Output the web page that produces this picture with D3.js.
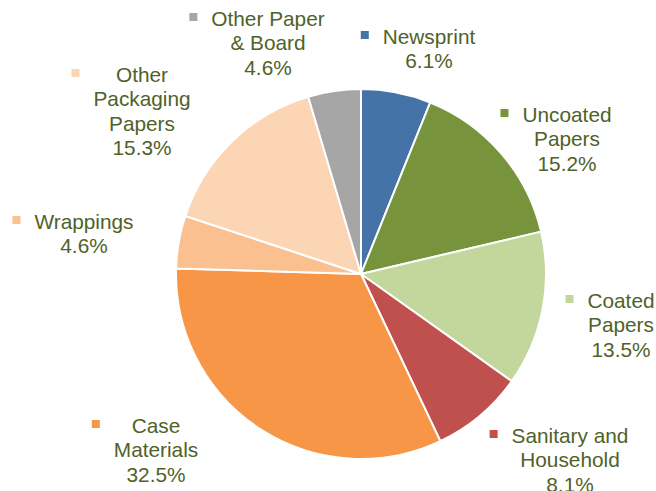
<!DOCTYPE html>
<html>
<head>
<meta charset="utf-8">
<script src="https://cdn.jsdelivr.net/npm/d3@7"></script>
<style>
  body { margin: 0; background: #fff; }
  text { font-family: "Liberation Sans", Arial, sans-serif; }
</style>
</head>
<body>
<div id="figure"></div>
<script>
// data
var categories = ["Newsprint", "Uncoated Papers", "Coated Papers", "Sanitary and Household",
    "Case Materials", "Wrappings", "Other Packaging Papers", "Other Paper & Board"];
var shares = [6.1, 15.2, 13.5, 8.1, 32.5, 4.6, 15.3, 4.6];
var labelLines = [
    ["Newsprint"],
    ["Uncoated", "Papers"],
    ["Coated", "Papers"],
    ["Sanitary and", "Household"],
    ["Case", "Materials"],
    ["Wrappings"],
    ["Other", "Packaging", "Papers"],
    ["Other Paper", "& Board"]
];
var colors = ["#4572a7", "#77933c", "#c3d69b", "#c0504d", "#f79646", "#fac090", "#fcd5b5", "#a6a6a6"];
// label anchor: center x of text block, baseline of first line
var labelPos = [[429, 44], [567, 122], [621, 308], [570, 443], [156, 433], [84, 229], [142, 82], [268, 26]];

var w = 656;
var h = 491;
var cx = 361, cy = 274, r = 185;
var lineH = 24.3;

var svg = d3.select("#figure")
    .append("svg")
    .attr("width", w)
    .attr("height", h);

var data = categories.map(function(c, i) {
    return { name: c, value: shares[i], lines: labelLines[i], color: colors[i], pos: labelPos[i] };
});

var pie = d3.pie()
    .sort(null)
    .value(function(d) { return d.value; });

var arc = d3.arc()
    .innerRadius(0)
    .outerRadius(r);

var g = svg.append("g")
    .attr("transform", "translate(" + cx + "," + cy + ")");

g.selectAll("path")
    .data(pie(data))
    .enter()
    .append("path")
    .attr("d", arc)
    .attr("fill", function(d) { return d.data.color; })
    .attr("stroke", "#fff")
    .attr("stroke-width", 2)
    .attr("stroke-linejoin", "round");

// labels
var labels = svg.selectAll("g.label")
    .data(data)
    .enter()
    .append("g")
    .attr("class", "label");

labels.each(function(d) {
    var lg = d3.select(this);
    var lines = d.lines.concat([d.value.toFixed(1) + "%"]);
    var maxW = 0;
    lines.forEach(function(t, k) {
        var txt = lg.append("text")
            .attr("x", d.pos[0])
            .attr("y", d.pos[1] + k * lineH)
            .attr("text-anchor", "middle")
            .attr("fill", "#4f6228")
            .style("font-size", "20.8px")
            .text(t);
        if (k < lines.length - 1) {
            maxW = Math.max(maxW, txt.node().getComputedTextLength());
        }
    });
    lg.append("rect")
        .attr("x", d.pos[0] - maxW / 2 - 14 - 8)
        .attr("y", d.pos[1] - 13)
        .attr("width", 8)
        .attr("height", 8)
        .attr("fill", d.color);
});
</script>
</body>
</html>
